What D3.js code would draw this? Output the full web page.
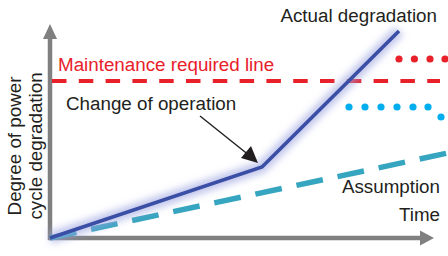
<!DOCTYPE html>
<html>
<head>
<meta charset="utf-8">
<script src="https://cdn.jsdelivr.net/npm/d3@7"></script>
<style>
html,body{margin:0;padding:0;background:#fff;}
svg{display:block;font-family:"Liberation Sans",Arial,Helvetica,sans-serif;}
</style>
</head>
<body>
<svg id="chart" width="448" height="256"></svg>
<script>
// ---- data (time units 0..100, degradation units 0..100) ----
const actualT = [0, 53, 87.25];
const actualD = [0, 35.5, 103.5];
const assumptionT = [0, 99.5];
const assumptionD = [0, 42.5];
const maintenanceLevel = 78.5;
const maintenanceT = [0.5, 97.5];
const redDotsT = [87.25, 91.1, 95, 98.75];
const redDotsD = [89.5, 89.5, 89.5, 89.5];
const cyanDotsT = [74.75, 78.75, 82.75, 86.75, 90.75, 94.5, 97.75];
const cyanDotsD = [65.5, 65.5, 65.5, 65.5, 65.5, 65.5, 60.5];
const axisEnd = {t: 96, d: 107};
const labels = {
  actual: "Actual degradation",
  maintenance: "Maintenance required line",
  change: "Change of operation",
  assumption: "Assumption",
  time: "Time",
  yLabel: ["Degree of power", "cycle degradation"]
};

const svg = d3.select("#chart");
const x = d3.scaleLinear().domain([0, 100]).range([50, 450]);
const y = d3.scaleLinear().domain([0, 100]).range([238, 38]);

const defs = svg.append("defs");
defs.append("filter").attr("id", "glow").attr("x", "-20%").attr("y", "-20%").attr("width", "140%").attr("height", "140%")
  .append("feGaussianBlur").attr("stdDeviation", 3.5);

const line = d3.line().x(d => x(d[0])).y(d => y(d[1]));
const gray = "#808080";

// ---- axes ----
const ax = svg.append("g");
ax.append("line").attr("x1", x(0)).attr("y1", y(0) + 2).attr("x2", x(0)).attr("y2", y(axisEnd.d) + 12)
  .attr("stroke", gray).attr("stroke-width", 4.5);
ax.append("path").attr("d", `M${x(0)},${y(axisEnd.d)} L${x(0) - 7},${y(axisEnd.d) + 15} L${x(0) + 7},${y(axisEnd.d) + 15} Z`)
  .attr("fill", gray);
ax.append("line").attr("x1", x(0) - 2).attr("y1", y(0)).attr("x2", x(axisEnd.t) - 12).attr("y2", y(0))
  .attr("stroke", gray).attr("stroke-width", 4.5);
ax.append("path").attr("d", `M${x(axisEnd.t)},${y(0)} L${x(axisEnd.t) - 14},${y(0) - 7.5} L${x(axisEnd.t) - 14},${y(0) + 7.5} Z`)
  .attr("fill", gray);

// ---- maintenance line ----
svg.append("line").attr("x1", x(maintenanceT[0])).attr("x2", x(maintenanceT[1]))
  .attr("y1", y(maintenanceLevel)).attr("y2", y(maintenanceLevel))
  .attr("stroke", "#e8202a").attr("stroke-width", 4).attr("stroke-dasharray", "14.5 12.3");

// ---- assumption dashed ----
const assumption = assumptionT.map((t, i) => [t, assumptionD[i]]);
svg.append("path").attr("d", line(assumption)).attr("fill", "none")
  .attr("stroke", "#36a5bf").attr("stroke-width", 5.5).attr("stroke-dasharray", "27 15");

// ---- dots ----
svg.selectAll("circle.red").data(redDotsT.map((t, i) => [t, redDotsD[i]])).join("circle")
  .attr("cx", d => x(d[0])).attr("cy", d => y(d[1])).attr("r", 3.6).attr("fill", "#e8202a");
svg.selectAll("circle.cyan").data(cyanDotsT.map((t, i) => [t, cyanDotsD[i]])).join("circle")
  .attr("cx", d => x(d[0])).attr("cy", d => y(d[1])).attr("r", 3.6).attr("fill", "#00aeef");

// ---- actual degradation ----
const actual = actualT.map((t, i) => [t, actualD[i]]);
svg.append("path").attr("d", line(actual)).attr("fill", "none")
  .attr("stroke", "#9aa2e0").attr("stroke-opacity", 0.6).attr("stroke-width", 12)
  .attr("stroke-linejoin", "round").attr("filter", "url(#glow)");
svg.append("path").attr("d", line(actual)).attr("fill", "none")
  .attr("stroke", "#3a4ea5").attr("stroke-width", 3.6).attr("stroke-linejoin", "miter");

// ---- annotation arrow ----
const tipX = x(actualT[1]) - 4, tipY = y(actualD[1]) - 4;
svg.append("line").attr("x1", 200).attr("y1", 116).attr("x2", tipX - 8).attr("y2", tipY - 7)
  .attr("stroke", "#231f20").attr("stroke-width", 1.4);
svg.append("path").attr("d", `M${tipX},${tipY} L${tipX - 17},${tipY - 5} L${tipX - 7},${tipY - 17} Z`)
  .attr("fill", "#231f20");

// ---- texts ----
const fs = 18.8;
svg.append("text").attr("x", 437).attr("y", 22).attr("text-anchor", "end")
  .attr("font-size", fs).attr("fill", "#231f20").text(labels.actual);
svg.append("text").attr("x", 58).attr("y", 71)
  .attr("font-size", fs).attr("fill", "#e8202a").text(labels.maintenance);
svg.append("text").attr("x", 66).attr("y", 110)
  .attr("font-size", fs).attr("fill", "#231f20").text(labels.change);
svg.append("text").attr("x", 440).attr("y", 193).attr("text-anchor", "end")
  .attr("font-size", fs).attr("fill", "#231f20").text(labels.assumption);
svg.append("text").attr("x", 440).attr("y", 221).attr("text-anchor", "end")
  .attr("font-size", fs).attr("fill", "#231f20").text(labels.time);

const yl = svg.append("text").attr("transform", "translate(21,146) rotate(-90)")
  .attr("text-anchor", "middle").attr("font-size", fs).attr("fill", "#231f20");
yl.append("tspan").attr("x", 0).attr("y", 0).text(labels.yLabel[0]);
yl.append("tspan").attr("x", 0).attr("y", 21).text(labels.yLabel[1]);
</script>
</body>
</html>
